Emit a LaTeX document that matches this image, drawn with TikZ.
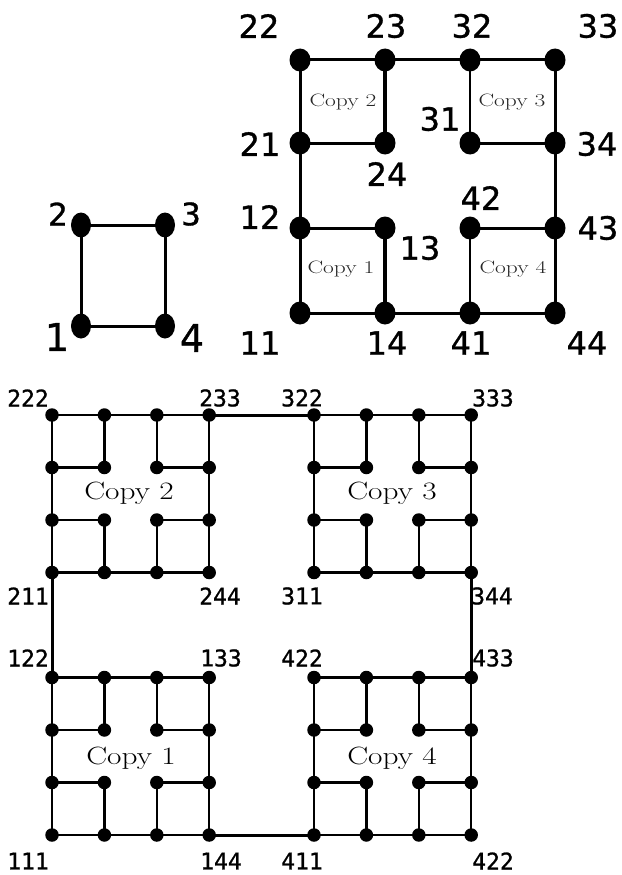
\documentclass[tikz,border=0pt]{standalone}
\usepackage{fontspec}
\newfontfamily\lblsans[RawFeature={embolden=1.0}]{DejaVu Sans}
\newfontfamily\lblmono[RawFeature={embolden=1.0}]{DejaVu Sans Mono}
\usetikzlibrary{shapes.geometric}
\pgfdeclarelayer{bg}
\pgfsetlayers{bg,main}
\tikzset{
  dotA/.style={ellipse, fill=black, inner sep=0pt, minimum width=20pt, minimum height=25pt},
  dotB/.style={ellipse, fill=black, inner sep=0pt, minimum width=21pt, minimum height=23pt},
  dotC/.style={circle, fill=black, inner sep=0pt, minimum size=13.5pt},
  edgeA/.style={line width=3pt},
  edgeB/.style={line width=3pt},
  edgeBthick/.style={line width=4.5pt},
  edgeBthin/.style={line width=2.2pt},
  edgeC/.style={line width=2.2pt},
  linkC/.style={line width=3pt},
  labA/.style={inner sep=0pt, font={\lblsans\fontsize{31}{31}\selectfont}},
  labAbig/.style={inner sep=0pt, font={\lblsans\fontsize{38}{38}\selectfont}},
  labB/.style={inner sep=0pt, font={\lblsans\fontsize{32}{32}\selectfont}},
  labC/.style={inner sep=0pt, font={\lblmono\fontsize{23}{23}\selectfont}},
  copyB/.style={inner sep=0pt, anchor=base, text=black!85, font={\fontsize{18}{18}\selectfont}},
  copyC/.style={inner sep=0pt, anchor=base, font={\fontsize{25}{25}\selectfont}},
}
\begin{document}
\begin{tikzpicture}[x=1pt,y=-1pt]
\useasboundingbox (0,0) rectangle (621,875);

% ---------- level 1 ----------
\node[dotA] (p1) at (81,326) {};
\node[dotA] (p2) at (81,225) {};
\node[dotA] (p3) at (165,225) {};
\node[dotA] (p4) at (165,326) {};
\begin{pgfonlayer}{bg}
\draw[edgeA] (p1.center) -- (p2.center) -- (p3.center) -- (p4.center) -- cycle;
\end{pgfonlayer}
\node[labA] (t2) at (58,214) {2};
\node[labA] (t3) at (191,214) {3};
\node[labAbig] (t1) at (57,337) {1};
\node[labAbig] (t4) at (192,338) {4};

% ---------- level 2 ----------
\node[dotB] (n22) at (300,60) {};
\node[dotB] (n23) at (385,60) {};
\node[dotB] (n32) at (470,60) {};
\node[dotB] (n33) at (555,60) {};
\node[dotB] (n21) at (300,143) {};
\node[dotB] (n24) at (385,143) {};
\node[dotB] (n31) at (470,143) {};
\node[dotB] (n34) at (555,143) {};
\node[dotB] (n12) at (300,228) {};
\node[dotB] (n13) at (385,228) {};
\node[dotB] (n42) at (470,228) {};
\node[dotB] (n43) at (555,228) {};
\node[dotB] (n11) at (300,313) {};
\node[dotB] (n14) at (385,313) {};
\node[dotB] (n41) at (470,313) {};
\node[dotB] (n44) at (555,313) {};
\begin{pgfonlayer}{bg}
\draw[edgeB] (n24.center) -- (n21.center) -- (n22.center) -- (n23.center) -- (n32.center) -- (n33.center) -- (n34.center) -- (n31.center);
\draw[edgeB] (n13.center) -- (n12.center) -- (n21.center);
\draw[edgeB] (n12.center) -- (n11.center) -- (n14.center) -- (n41.center) -- (n44.center) -- (n43.center) -- (n42.center);
\draw[edgeB] (n43.center) -- (n34.center);
\draw[edgeBthick] (n23.center) -- (n24.center);
\draw[edgeBthick] (n13.center) -- (n14.center);
\draw[edgeBthin] (n31.center) -- (n32.center);
\draw[edgeBthin] (n42.center) -- (n41.center);
\end{pgfonlayer}
\node[labB] (t22) at (259,26) {22};
\node[labB] (t23) at (386,26) {23};
\node[labB] (t32) at (472,26) {32};
\node[labB] (t33) at (598,26) {33};
\node[labB] (t21) at (260,144) {21};
\node[labB] (t24) at (387,174) {24};
\node[labB] (t31) at (440,119) {31};
\node[labB] (t34) at (597,144) {34};
\node[labB] (t12) at (260,217) {12};
\node[labB] (t13) at (420,248) {13};
\node[labB] (t42) at (481,198) {42};
\node[labB] (t43) at (598,228) {43};
\node[labB] (t11) at (260,343) {11};
\node[labB] (t14) at (387,343) {14};
\node[labB] (t41) at (471,343) {41};
\node[labB] (t44) at (587,343) {44};
\node[copyB] (cb2) at (343,106) {\scalebox{1.3}[1]{Copy 2}};
\node[copyB] (cb3) at (512,106) {\scalebox{1.3}[1]{Copy 3}};
\node[copyB] (cb1) at (341,273) {\scalebox{1.3}[1]{Copy 1}};
\node[copyB] (cb4) at (513,273) {\scalebox{1.3}[1]{Copy 4}};

% ---------- level 3 ----------
\foreach \c/\ox/\oy in {1/52/677.5, 2/52/415, 3/314/415, 4/314/677.5} {
  \foreach \i in {0,...,3} {
    \foreach \r in {0,...,3} {
      \node[dotC] (q\c-\i-\r) at ({\ox+52.4*\i},{\oy+52.5*\r}) {};
    }
  }
  \begin{pgfonlayer}{bg}
  \draw[edgeC] (q\c-0-0.center) -- (q\c-1-0.center) -- (q\c-2-0.center) -- (q\c-3-0.center)
     -- (q\c-3-1.center) -- (q\c-3-2.center) -- (q\c-3-3.center)
     -- (q\c-2-3.center) -- (q\c-1-3.center) -- (q\c-0-3.center)
     -- (q\c-0-2.center) -- (q\c-0-1.center) -- cycle;
  \draw[edgeC] (q\c-1-0.center) -- (q\c-1-1.center) -- (q\c-0-1.center);
  \draw[edgeC] (q\c-2-0.center) -- (q\c-2-1.center) -- (q\c-3-1.center);
  \draw[edgeC] (q\c-0-2.center) -- (q\c-1-2.center) -- (q\c-1-3.center);
  \draw[edgeC] (q\c-3-2.center) -- (q\c-2-2.center) -- (q\c-2-3.center);
  \end{pgfonlayer}
}
\begin{pgfonlayer}{bg}
\draw[linkC] (q2-3-0.center) -- (q3-0-0.center);
\draw[linkC] (q2-0-3.center) -- (q1-0-0.center);
\draw[linkC] (q3-3-3.center) -- (q4-3-0.center);
\draw[linkC] (q1-3-3.center) -- (q4-0-3.center);
\end{pgfonlayer}
\node[labC] (u222) at (28,398) {222};
\node[labC] (u233) at (220,398) {233};
\node[labC] (u322) at (302,398) {322};
\node[labC] (u333) at (493,398) {333};
\node[labC] (u211) at (28,596) {211};
\node[labC] (u244) at (220,596) {244};
\node[labC] (u311) at (302,596) {311};
\node[labC] (u344) at (492,596) {344};
\node[labC] (u122) at (28,658) {122};
\node[labC] (u133) at (221,658) {133};
\node[labC] (u422a) at (302,658) {422};
\node[labC] (u433) at (493,658) {433};
\node[labC] (u111) at (28,861) {111};
\node[labC] (u144) at (221,861) {144};
\node[labC] (u411) at (302,861) {411};
\node[labC] (u422b) at (493,861) {422};
\node[copyC] (cc2) at (129,499) {\scalebox{1.25}[1]{Copy 2}};
\node[copyC] (cc3) at (392,499) {\scalebox{1.25}[1]{Copy 3}};
\node[copyC] (cc1) at (131,764) {\scalebox{1.25}[1]{Copy 1}};
\node[copyC] (cc4) at (392,764) {\scalebox{1.25}[1]{Copy 4}};
\end{tikzpicture}
\end{document}
